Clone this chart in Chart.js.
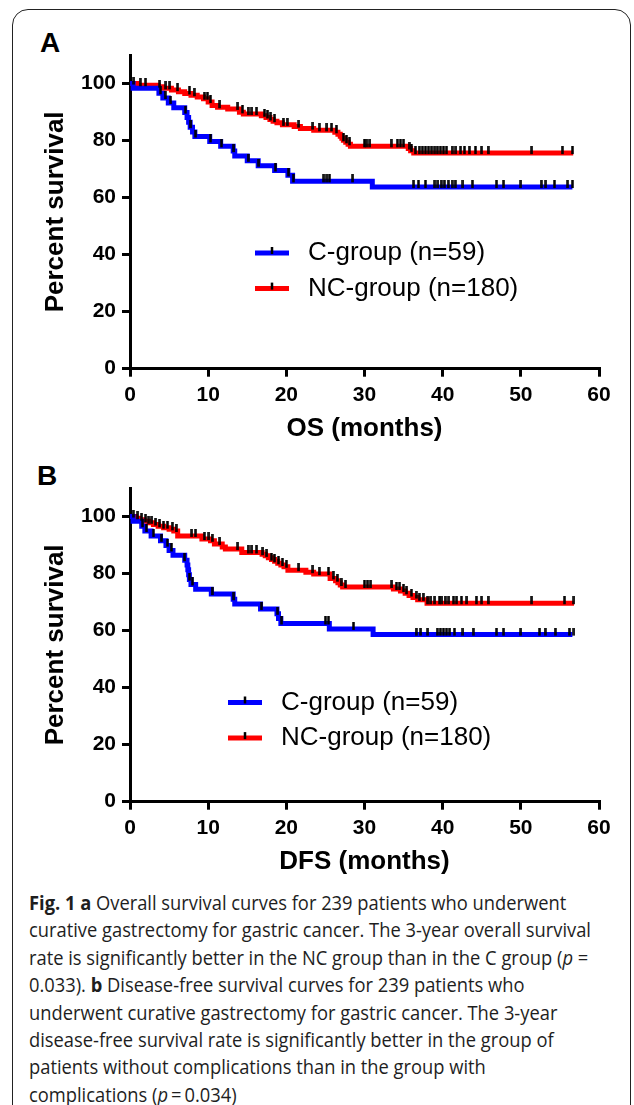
<!DOCTYPE html>
<html><head><meta charset="utf-8">
<script src="https://cdn.jsdelivr.net/npm/chart.js@4.4.0/dist/chart.umd.min.js"></script>
<style>
html,body{margin:0;padding:0;background:#fff;width:634px;height:1105px;overflow:hidden;position:relative;}
#frame{position:absolute;left:12px;top:9px;width:619px;height:1130px;border:1.5px solid #222;border-radius:16px;box-sizing:border-box;}
#wA{position:absolute;left:0;top:0;width:634px;height:450px;}
#wB{position:absolute;left:0;top:433px;width:634px;height:450px;}
.panel{position:absolute;font-family:'Liberation Sans',Arial,sans-serif;font-weight:bold;font-size:28px;line-height:28px;color:#000;}
#caption{position:absolute;left:29px;top:889px;font-family:'Open Sans',sans-serif;font-size:20px;line-height:27.4px;color:#1e1e1e;white-space:nowrap;transform-origin:0 0;}
#caption b{font-weight:700;}
</style></head>
<body>
<div id="frame"></div>
<div class="panel" style="left:40px;top:28.5px;">A</div>
<div class="panel" style="left:37px;top:462px;">B</div>
<div id="wA"><canvas id="cA"></canvas></div>
<div id="wB"><canvas id="cB"></canvas></div>
<div id="caption"><b>Fig. 1 a</b> Overall survival curves for 239 patients who underwent<br>curative gastrectomy for gastric cancer. The 3-year overall survival<br>rate is significantly better in the NC group than in the C group (<i>p</i> =<br>0.033). <b>b</b> Disease-free survival curves for 239 patients who<br>underwent curative gastrectomy for gastric cancer. The 3-year<br>disease-free survival rate is significantly better in the group of<br>patients without complications than in the group with<br>complications (<i>p</i>&#8201;=&#8201;0.034)</div>
<script>
// ---------- data ----------
const xTicks = [0, 10, 20, 30, 40, 50, 60];
const yTicks = [0, 20, 40, 60, 80, 100];
const seriesLabels = ['C-group (n=59)', 'NC-group (n=180)'];
const seriesColors = ['#0000FF', '#FF0000'];
const axisTitlesX = ['OS (months)', 'DFS (months)'];
const axisTitleY = 'Percent survival';

// Panel A: overall survival
const osC_t  = [0,0.4,3.7,4.2,4.9,5.6,7.0,7.3,7.5,7.7,8.0,8.3,10.2,11.6,13.2,13.4,15.0,16.4,18.5,20.2,20.8,31.0,56.6];
const osC_s  = [100,98.3,96.6,94.9,93.2,91.5,89.8,88.1,86.4,84.7,83.0,81.4,79.7,78.0,76.3,74.6,72.9,71.2,69.5,67.8,65.7,63.7,63.7];
const osC_cens = [3.9,4.5,5.2,7.1,7.8,8.4,10.3,11.7,13.3,15.1,16.5,18.6,20.3,20.9,24.8,25.2,25.5,28.5,36.3,36.9,37.8,39.0,39.4,39.8,40.2,40.7,41.2,41.6,42.6,43.8,46.9,47.8,50.0,52.6,53.2,54.3,56.0,56.6];

const osNC_t = [0,0.9,3.6,4.2,5.3,6.2,7.0,7.8,8.6,9.4,10.0,10.5,11.2,12.5,14.0,14.5,16.8,17.4,17.9,18.3,18.8,19.5,21.0,21.8,23.5,26.2,26.6,26.9,27.1,27.3,27.6,27.9,28.2,35.6,35.9,36.3,56.7];
const osNC_s = [100,99.4,98.9,98.3,97.7,97.1,96.5,95.9,95.3,94.7,93.5,92.3,91.7,91.1,89.9,89.3,88.7,88.1,87.4,86.8,86.2,85.5,84.9,84.2,83.6,82.9,82.2,81.5,80.8,80.1,79.4,78.7,78.0,77.2,76.4,75.6,75.6];
const osNC_cens = [0.5,1.3,2.0,3.8,4.6,5.1,6.1,7.6,8.2,9.5,9.9,10.3,11.5,13.8,14.4,15.1,15.6,16.2,17.2,17.6,18.0,18.5,19.6,20.1,21.6,23.4,24.2,25.2,25.8,26.4,27.3,27.7,28.1,30.0,30.3,30.7,33.4,34.2,34.6,35.0,35.7,36.0,36.5,37.0,37.4,37.8,38.2,38.6,39.0,39.3,39.7,40.1,40.5,41.2,41.7,42.3,42.8,43.4,44.2,45.0,45.8,51.4,55.3,56.6];

// Panel B: disease-free survival
const dfsC_t = [0,0.4,1.5,1.9,2.7,3.9,4.6,5.0,5.5,7.0,7.3,7.4,7.5,7.6,7.8,8.4,10.4,13.2,13.4,16.7,18.8,19.0,19.3,25.5,31.1,56.6];
const dfsC_s = [100,98.3,96.6,94.9,93.2,91.5,89.8,88.1,86.4,84.7,83.0,81.3,79.6,77.9,76.2,74.5,72.8,71.0,69.3,67.6,65.9,64.2,62.5,60.6,58.6,58.6];
const dfsC_cens = [1.6,2.1,3.0,4.0,4.8,5.3,7.0,7.6,8.0,10.5,13.3,16.8,18.9,19.4,25.0,25.4,28.6,36.6,37.2,38.1,39.3,39.7,40.1,40.5,40.9,41.5,42.6,43.9,46.9,47.8,50.0,52.4,53.1,54.4,56.2,56.8];

const dfsNC_t = [0,0.7,1.2,1.8,2.4,3.0,3.6,4.3,5.0,5.6,6.1,9.2,10.3,10.8,11.8,12.2,14.3,16.9,17.3,17.7,18.1,18.5,18.9,19.3,19.7,20.2,22.5,23.5,25.6,26.3,26.6,26.9,27.2,33.7,34.6,35.2,35.7,36.2,36.8,38.0,56.8];
const dfsNC_s = [100,99.4,98.9,98.3,97.8,97.2,96.6,96.1,95.5,94.9,93.2,92.1,91.5,90.4,89.3,88.6,87.4,86.8,86.2,85.5,84.9,84.3,83.6,83.0,82.4,81.2,80.5,79.8,78.3,77.5,76.8,76.0,75.3,74.6,73.9,73.1,72.3,71.6,70.8,69.6,69.6];
const dfsNC_cens = [0.4,1.0,1.5,2.0,2.4,2.8,3.3,3.8,4.3,4.8,5.4,5.9,7.9,8.4,9.5,10.1,10.5,11.5,13.8,15.1,15.6,16.2,17.0,17.5,18.1,18.5,19.0,19.5,20.0,21.6,23.4,24.2,25.4,26.0,26.5,27.0,27.6,30.0,30.4,30.8,33.5,34.1,34.5,35.0,35.4,36.0,36.6,37.0,37.5,38.1,38.5,39.0,39.6,39.9,40.3,40.8,41.4,41.8,42.4,43.1,44.3,45.0,45.8,51.4,55.6,56.8];

// ---------- helpers ----------
function stepAt(t, ts, ss) { let v = ss[0]; for (let i = 0; i < ts.length; i++) { if (ts[i] <= t) v = ss[i]; } return v; }
function pts(ts, ss) { return ts.map((t, i) => ({x: t, y: ss[i]})); }
function censPts(cs, ts, ss) { return cs.map(t => ({x: t, y: stepAt(t, ts, ss)})); }
function censorMark() {
  const c = document.createElement('canvas'); c.width = 3; c.height = 14;
  const g = c.getContext('2d'); g.fillStyle = '#000'; g.fillRect(0.25, 0, 2.5, 8); return c;
}
const MARK = censorMark();
const FONT = "'Liberation Sans', Arial, sans-serif";

const kmLegend = {
  id: 'kmLegend',
  afterDatasetsDraw(chart, args, o) {
    const ctx = chart.ctx; ctx.save();
    seriesLabels.forEach((lab, i) => {
      const y = o.y0 + i * o.dy;
      ctx.strokeStyle = seriesColors[i]; ctx.lineWidth = 5; ctx.lineCap = 'butt';
      ctx.beginPath(); ctx.moveTo(o.x0, y); ctx.lineTo(o.x1, y); ctx.stroke();
      ctx.fillStyle = '#000'; ctx.fillRect((o.x0 + o.x1) / 2 - 1.25, y - 6, 2.5, 7);
      ctx.font = '26px ' + FONT; ctx.textBaseline = 'middle'; ctx.textAlign = 'left';
      ctx.fillText(lab, o.tx, y);
    });
    ctx.restore();
  }
};

function makeChart(id, xTitle, C_t, C_s, C_c, N_t, N_s, N_c, leg) {
  const axisCommon = {
    border: {display: true, color: '#000', width: 3},
    grid: {drawOnChartArea: false, drawTicks: true, tickLength: 8, color: '#000', lineWidth: 3},
  };
  return new Chart(document.getElementById(id), {
    type: 'line',
    data: {datasets: [
      {label: 'censC', data: censPts(C_c, C_t, C_s), showLine: false, pointStyle: MARK, pointRadius: 3, order: 0},
      {label: 'censNC', data: censPts(N_c, N_t, N_s), showLine: false, pointStyle: MARK, pointRadius: 3, order: 0},
      {label: seriesLabels[0], data: pts(C_t, C_s), borderColor: seriesColors[0], borderWidth: 5, stepped: true, pointRadius: 0, fill: false, order: 1, borderJoinStyle: 'miter'},
      {label: seriesLabels[1], data: pts(N_t, N_s), borderColor: seriesColors[1], borderWidth: 5, stepped: true, pointRadius: 0, fill: false, order: 2, borderJoinStyle: 'miter'}
    ]},
    options: {
      responsive: true, maintainAspectRatio: false, animation: false, devicePixelRatio: 1,
      layout: {padding: {left: 0, top: 55, right: 35, bottom: 0}},
      plugins: {legend: {display: false}, tooltip: {enabled: false}, kmLegend: leg},
      scales: {
        x: Object.assign({}, axisCommon, {
          type: 'linear', min: 0, max: 60,
          afterBuildTicks: s => { s.ticks = xTicks.map(v => ({value: v})); },
          afterFit: s => { s.height = 81.3; },
          ticks: {color: '#000', font: {family: FONT, weight: 'bold', size: 21}, padding: 6, maxRotation: 0, autoSkip: false},
          title: {display: true, text: xTitle, color: '#000', font: {family: FONT, weight: 'bold', size: 26}, padding: {top: 0, bottom: 6}}
        }),
        y: Object.assign({}, axisCommon, {
          type: 'linear', min: 0, max: 110,
          afterBuildTicks: s => { s.ticks = yTicks.map(v => ({value: v})); },
          afterFit: s => { s.width = 130; },
          ticks: {color: '#000', font: {family: FONT, weight: 'bold', size: 21}, padding: 6},
          title: {display: true, text: axisTitleY, color: '#000', font: {family: FONT, weight: 'bold', size: 26}, padding: {top: 40, bottom: 0}}
        })
      }
    },
    plugins: [kmLegend]
  });
}

makeChart('cA', axisTitlesX[0], osC_t, osC_s, osC_cens, osNC_t, osNC_s, osNC_cens, {x0: 255, x1: 289, tx: 308, y0: 253, dy: 35.6});
makeChart('cB', axisTitlesX[1], dfsC_t, dfsC_s, dfsC_cens, dfsNC_t, dfsNC_s, dfsNC_cens, {x0: 228, x1: 262, tx: 281, y0: 269.5, dy: 35.6});

// fit caption width to the original layout
const cap = document.getElementById('caption');
const w = cap.getBoundingClientRect().width;
cap.style.transform = 'scaleX(' + (562 / w) + ')';
</script>
</body></html>
